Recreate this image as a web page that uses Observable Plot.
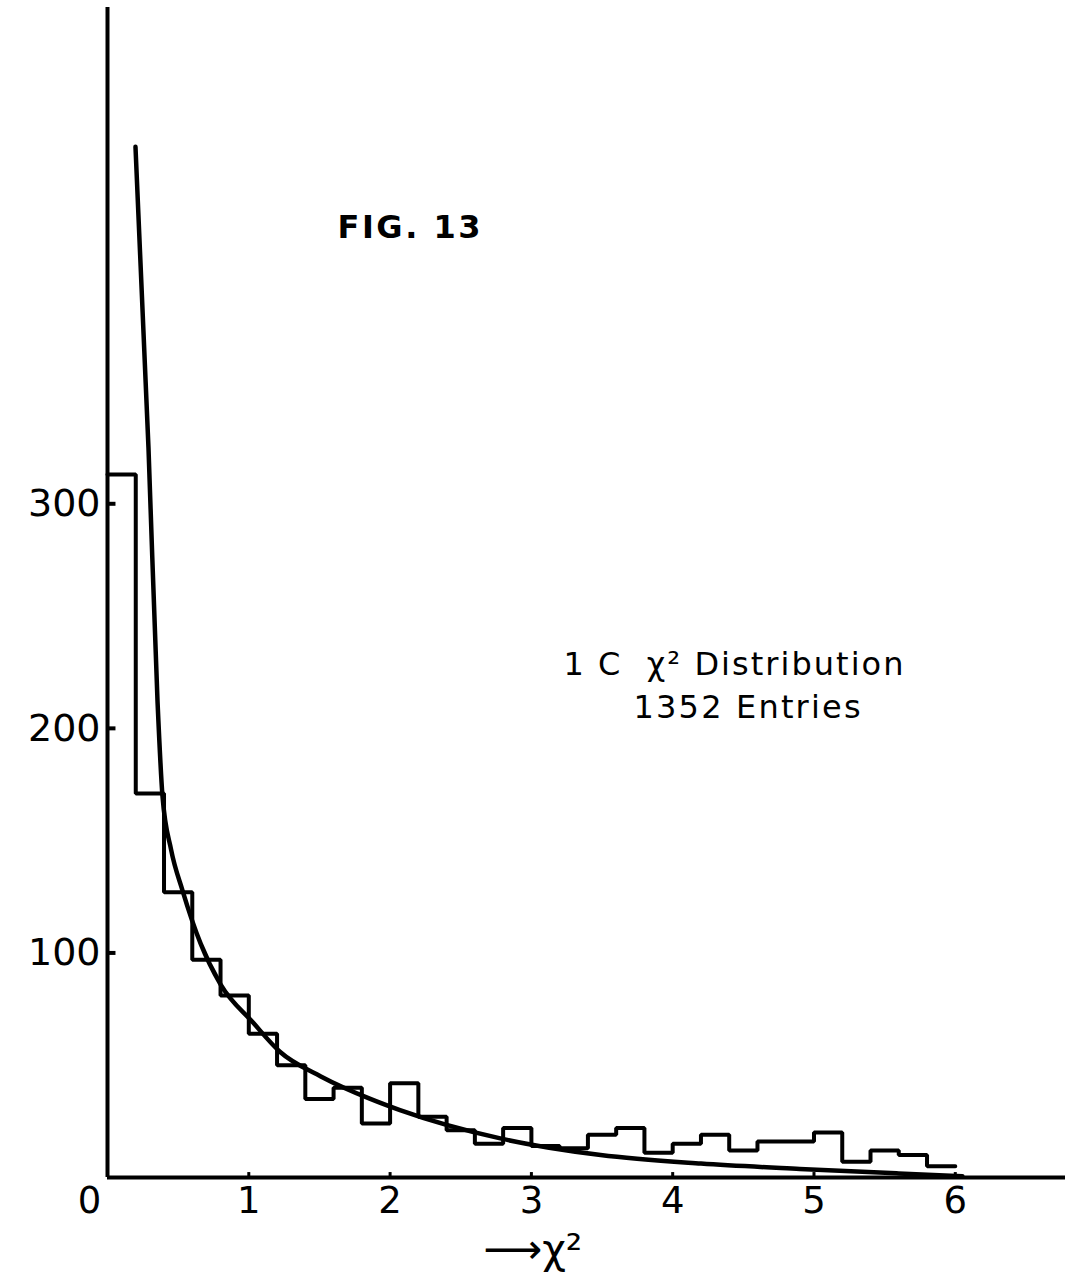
<!DOCTYPE html>
<html><head><meta charset="utf-8">
<script src="https://cdn.jsdelivr.net/npm/d3@7"></script>
<script src="https://cdn.jsdelivr.net/npm/@observablehq/plot@0.6"></script>
<style>body{margin:0;background:#fff} svg{display:block}</style>
</head><body><div id="chart"></div>
<script>
// Histogram: 30 bins of width 0.2 in chi-squared, counts per bin
const binWidth = 0.2;
const counts = [313,171,127,97,81,64,50,35,40,24,42,27,21,15,22,14,13,19,22,11,15,19,12,16,16,20,7,12,10,5];
// Fitted curve
const curveX = [0.198,0.29,0.354,0.389,0.45,0.53,0.66,0.80,1.03,1.22,1.51,1.86,2.07,2.78,3.49,4.2,4.9,5.6,6.05];
const curveY = [459,325,212,170,146,128,104,86,69,56,45,35,30,17.4,10,6.2,3.8,1.8,0.6];
const xTicks = [1,2,3,4,5,6];
const yTicks = [100,200,300];
const xZeroLabel = ["0"];
const title = "FIG. 13";
const noteLines = ["1 C  \u03C7\u00B2 Distribution", "1352 Entries"];
const xLabel = "\u27F6\u03C7\u00B2";

const steps = counts.map((c,i)=>({x: i*binWidth, y: c}));
steps.push({x: counts.length*binWidth, y: counts[counts.length-1]});
const curve = curveX.map((x,i)=>({x, y: curveY[i]}));
const font = "'DejaVu Sans', sans-serif";
const ink = "#000";

const chart = Plot.plot({
  width:1075, height:1275,
  marginTop:7, marginBottom:98, marginLeft:107, marginRight:10,
  x:{domain:[0,6.78], axis:null},
  y:{domain:[0,521], axis:null},
  style:{fontFamily: font, background:"#fff", color: ink},
  marks:[
    Plot.ruleY([0], {stroke: ink, strokeWidth:4}),
    Plot.ruleX([0], {stroke: ink, strokeWidth:4}),
    Plot.ruleY(yTicks, {x1:0, x2:0.06, stroke: ink, strokeWidth:4}),
    Plot.ruleX(xTicks, {y1:0, y2:2.2, stroke: ink, strokeWidth:3}),
    Plot.line(steps, {x:"x", y:"y", curve:"step-after", stroke: ink, strokeWidth:4, strokeLinejoin:"miter"}),
    Plot.line(curve, {x:"x", y:"y", curve:"monotone-x", stroke: ink, strokeWidth:4.5}),
    Plot.text(yTicks, {x:0, y:d=>d, text:d=>String(d), textAnchor:"end", dx:-7, fontSize:38, fill: ink}),
    Plot.text(xTicks, {x:d=>d, y:0, text:d=>String(d), dy:24, fontSize:37, fill: ink}),
    Plot.text(xZeroLabel, {x:0, y:0, text:d=>d, dx:-18, dy:24, fontSize:37, fill: ink}),
    Plot.text([title], {x:1.628, y:423, text:d=>d, textAnchor:"start", fontWeight:"bold", fontSize:32, fill: ink}),
    Plot.text([noteLines[0]], {x:3.227, y:228.5, text:d=>d, textAnchor:"start", fontSize:32, fill: ink}),
    Plot.text([noteLines[1]], {x:3.723, y:209, text:d=>d, textAnchor:"start", fontSize:32, fill: ink}),
    Plot.text([xLabel], {x:2.66, y:0, text:d=>d, textAnchor:"start", dy:72, fontSize:41, fill: ink})
  ]
});
// widen the hand-lettered annotations to the widths they have in the figure
const widths = new Map([[title, 143], [noteLines[0], 340], [noteLines[1], 227]]);
d3.select(chart).selectAll("text").each(function() {
  const w = widths.get(this.textContent);
  if (w) { this.setAttribute("textLength", w); this.setAttribute("lengthAdjust", "spacing"); }
});
document.getElementById("chart").append(chart);
</script>
</body></html>
